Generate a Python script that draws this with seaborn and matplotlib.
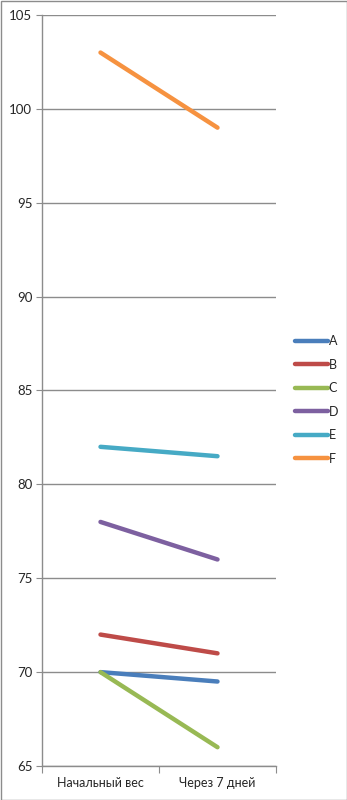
import matplotlib
matplotlib.use("Agg")
import matplotlib.pyplot as plt
import seaborn as sns
import pandas as pd
from matplotlib.patches import Rectangle

categories = ["Начальный вес", "Через 7 дней"]
series = ["A", "B", "C", "D", "E", "F"]
A = [70, 69.5]
B = [72, 71]
C = [70, 66]
D = [78, 76]
E = [82, 81.5]
F = [103, 99]
colors = ["#4A7EBB", "#BE4B48", "#98B954", "#7D60A0", "#46AAC5", "#F69240"]

values = {"A": A, "B": B, "C": C, "D": D, "E": E, "F": F}
rows = []
for s in series:
    for c, v in zip(categories, values[s]):
        rows.append({"cat": c, "val": v, "series": s})
df = pd.DataFrame(rows)

sns.set_style("white")
plt.rcParams['font.family'] = ['Lato', 'DejaVu Sans']

fig = plt.figure(figsize=(3.47, 8.0), dpi=100)
ax = fig.add_axes([42/347, 1-766/800, (276-42)/347, (766-15)/800])
sns.lineplot(data=df, x="cat", y="val", hue="series", palette=colors,
             linewidth=3.2, ax=ax, legend=False, solid_capstyle="round")

ax.set_ylim(65, 105)
ax.set_xlim(-0.5, 1.5)
ax.set_yticks(range(65, 106, 5))
ax.yaxis.grid(True, color="#8C8C8C", linewidth=1.0)
ax.set_axisbelow(True)
for side in ["top", "right"]:
    ax.spines[side].set_visible(False)
for side in ["left", "bottom"]:
    ax.spines[side].set_color("#8C8C8C")
    ax.spines[side].set_linewidth(1.0)
ax.set_xticks([-0.5, 0.5, 1.5])
ax.set_xticklabels([])
ax.set_xticks([0, 1], minor=True)
ax.set_xticklabels(categories, minor=True, fontsize=9)
ax.tick_params(axis="x", which="major", length=5, color="#8C8C8C", direction="out", bottom=True)
ax.tick_params(axis="x", which="minor", length=0, pad=8)
ax.tick_params(axis="y", length=4, color="#8C8C8C", direction="out", left=True, labelsize=9.5, pad=3)
ax.set_xlabel("")
ax.set_ylabel("")

from matplotlib.lines import Line2D
handles = [Line2D([0], [0], color=c, linewidth=3.2, solid_capstyle="round") for c in colors]
fig.legend(handles, series, loc="center left", bbox_to_anchor=(290/347, 1-400/800),
           frameon=False, fontsize=9, handlelength=2.6, handletextpad=0.1,
           labelspacing=0.92, borderaxespad=0)

fig.patches.append(Rectangle((0.5/347, 0.5/800), 1-1/347, 1-1/800, transform=fig.transFigure,
                             fill=False, edgecolor="#8C8C8C", linewidth=1.0))
fig.savefig("out.png", dpi=100)
